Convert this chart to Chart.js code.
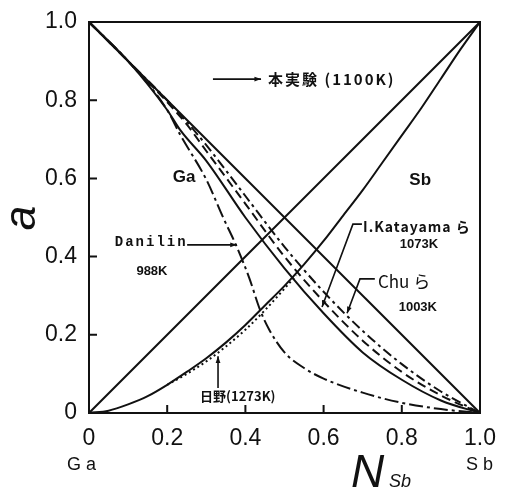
<!DOCTYPE html>
<html>
<head>
<meta charset="utf-8">
<script src="https://cdn.jsdelivr.net/npm/chart.js@4/dist/chart.umd.min.js"></script>
<style>
  body { margin: 0; background: #fff; }
</style>
</head>
<body>
<canvas id="chart" width="509" height="489"></canvas>
<script>
// tick values
const xTicks = [0, 0.2, 0.4, 0.6, 0.8, 1.0];
const yTicks = [0, 0.2, 0.4, 0.6, 0.8, 1.0];

// ideal (Raoult) lines
const raoultX = [0, 1];
const raoultGa = [1, 0];
const raoultSb = [0, 1];

// 本実験 (1100K)
const expGaX = [0, 0.1, 0.2, 0.233, 0.3, 0.4, 0.5, 0.6, 0.7, 0.8, 0.9, 1];
const expGa = [1, 0.9, 0.775, 0.724, 0.645, 0.5, 0.37, 0.255, 0.155, 0.085, 0.032, 0];
const expSbX = [0, 0.05, 0.1, 0.15, 0.2, 0.25, 0.3, 0.35, 0.4, 0.45, 0.5, 0.55, 0.6, 0.65, 0.7, 0.75, 0.8, 0.85, 0.9, 0.95, 1];
const expSb = [0, 0.006, 0.022, 0.043, 0.072, 0.105, 0.14, 0.18, 0.225, 0.275, 0.325, 0.38, 0.44, 0.505, 0.57, 0.64, 0.71, 0.78, 0.855, 0.93, 1];

// Chu ら 1003K
const chuX = [0, 0.1, 0.2, 0.25, 0.3, 0.4, 0.5, 0.6, 0.7, 0.8, 0.9, 1];
const chuGa = [1, 0.9, 0.8, 0.745, 0.685, 0.555, 0.425, 0.31, 0.21, 0.125, 0.055, 0];

// I.Katayama ら 1073K
const katayamaX = [0, 0.1, 0.2, 0.25, 0.3, 0.4, 0.5, 0.6, 0.7, 0.8, 0.9, 1];
const katayamaGa = [1, 0.9, 0.795, 0.738, 0.67, 0.535, 0.4, 0.285, 0.185, 0.105, 0.045, 0];

// Danilin 988K
const danilinX = [0, 0.1, 0.2, 0.233, 0.3, 0.343, 0.378, 0.41, 0.437, 0.46, 0.5, 0.55, 0.6, 0.7, 0.8, 0.9, 1];
const danilinGa = [1, 0.9, 0.775, 0.712, 0.597, 0.5, 0.425, 0.345, 0.265, 0.215, 0.155, 0.115, 0.088, 0.052, 0.026, 0.01, 0];

// 日野 (1273K)
const hinoX = [0.2, 0.25, 0.3, 0.35, 0.4, 0.45, 0.5, 0.53];
const hinoSb = [0.072, 0.1, 0.132, 0.17, 0.213, 0.263, 0.318, 0.352];

const pts = (xs, ys) => xs.map((v, i) => ({ x: v, y: ys[i] }));
const INK = '#111';

function curve(xs, ys, dash) {
    return {
        data: pts(xs, ys),
        showLine: true,
        borderColor: INK,
        borderWidth: 2,
        borderDash: dash,
        pointRadius: 0,
        cubicInterpolationMode: 'monotone',
    };
}

// labels, frame and pointers
const decor = {
    id: 'decor',
    afterDatasetsDraw(chart) {
        const { ctx, chartArea: a, scales: { x, y } } = chart;
        const px = v => x.getPixelForValue(v);
        const py = v => y.getPixelForValue(v);
        ctx.save();
        ctx.strokeStyle = INK;
        ctx.fillStyle = INK;
        ctx.lineWidth = 2;
        ctx.strokeRect(a.left, a.top, a.right - a.left, a.bottom - a.top);

        // inward ticks
        ctx.beginPath();
        xTicks.slice(1, -1).forEach(v => { ctx.moveTo(px(v), a.bottom); ctx.lineTo(px(v), a.bottom - 8); });
        yTicks.slice(1, -1).forEach(v => { ctx.moveTo(a.left, py(v)); ctx.lineTo(a.left + 8, py(v)); });
        ctx.stroke();

        function path(p) {
            ctx.lineWidth = 1.6;
            ctx.beginPath();
            p.forEach((q, i) => i ? ctx.lineTo(px(q[0]), py(q[1])) : ctx.moveTo(px(q[0]), py(q[1])));
            ctx.stroke();
            // arrow head at last point
            const [x1, y1] = [px(p[p.length - 2][0]), py(p[p.length - 2][1])];
            const [x2, y2] = [px(p[p.length - 1][0]), py(p[p.length - 1][1])];
            const ang = Math.atan2(y2 - y1, x2 - x1);
            ctx.beginPath();
            ctx.moveTo(x2, y2);
            ctx.lineTo(x2 - 7 * Math.cos(ang - 0.35), y2 - 7 * Math.sin(ang - 0.35));
            ctx.lineTo(x2 - 7 * Math.cos(ang + 0.35), y2 - 7 * Math.sin(ang + 0.35));
            ctx.closePath();
            ctx.fill();
        }
        function text(s, xv, yv, font, align, spacing) {
            ctx.font = font;
            ctx.textAlign = align || 'left';
            ctx.textBaseline = 'middle';
            ctx.letterSpacing = spacing || '0px';
            ctx.fillText(s, px(xv), py(yv));
        }

        path([[0.317, 0.854], [0.44, 0.854]]);
        text('本実験 (1100K)', 0.458, 0.854, 'bold 15px "Noto Sans CJK JP"', 'left', '2px');

        text('Ga', 0.243, 0.604, 'bold 17px "Liberation Sans Narrow", "Liberation Sans"', 'center');
        text('Sb', 0.847, 0.596, 'bold 17px "Liberation Sans Narrow", "Liberation Sans"', 'center');

        text('Danilin', 0.066, 0.437, 'bold 14px "Liberation Mono"', 'left', '2px');
        path([[0.251, 0.43], [0.378, 0.43]]);
        text('988K', 0.161, 0.361, 'bold 13px "Liberation Sans Narrow", "Liberation Sans"', 'center');

        text('I.Katayama ら', 0.701, 0.477, 'bold 14px "Noto Sans CJK JP"', 'left', '1px');
        path([[0.698, 0.483], [0.675, 0.483], [0.596, 0.271]]);
        text('1073K', 0.844, 0.43, 'bold 13px "Liberation Sans Narrow", "Liberation Sans"', 'center');

        text('Chu ら', 0.739, 0.335, '17px "Noto Sans CJK JP"', 'left');
        path([[0.731, 0.343], [0.693, 0.343], [0.66, 0.255]]);
        text('1003K', 0.841, 0.269, 'bold 13px "Liberation Sans Narrow", "Liberation Sans"', 'center');

        text('日野(1273K)', 0.284, 0.043, 'bold 13px "Noto Sans CJK JP"', 'left');
        path([[0.33, 0.064], [0.33, 0.145]]);

        // axis captions
        ctx.textBaseline = 'alphabetic';
        ctx.textAlign = 'center';
        ctx.font = '18px "Liberation Sans"';
        ctx.letterSpacing = '5px';
        ctx.fillText('Ga', a.left - 5, a.bottom + 57);
        ctx.fillText('Sb', a.right + 2, a.bottom + 57);
        ctx.letterSpacing = '0px';
        ctx.font = 'italic 46px "Liberation Sans"';
        ctx.textAlign = 'left';
        ctx.fillText('N', a.left + 262, a.bottom + 74);
        ctx.font = 'italic 18px "Liberation Sans"';
        ctx.fillText('Sb', a.left + 300, a.bottom + 74);

        ctx.save();
        ctx.translate(a.left - 66, a.top + 196);
        ctx.rotate(-Math.PI / 2);
        ctx.font = 'italic 44px "Liberation Sans"';
        ctx.textAlign = 'center';
        ctx.textBaseline = 'middle';
        ctx.fillText('a', 0, 0);
        ctx.restore();

        ctx.restore();
    }
};

new Chart(document.getElementById('chart'), {
    type: 'scatter',
    data: {
        datasets: [
            curve(raoultX, raoultGa, []),
            curve(raoultX, raoultSb, []),
            curve(expGaX, expGa, []),
            curve(expSbX, expSb, []),
            curve(chuX, chuGa, [10, 4, 3, 4]),
            curve(katayamaX, katayamaGa, [9, 5]),
            curve(danilinX, danilinGa, [14, 4, 3, 4]),
            curve(hinoX, hinoSb, [2, 3]),
        ]
    },
    options: {
        responsive: false,
        animation: false,
        devicePixelRatio: 1,
        layout: { padding: { top: 22, right: 29, left: 0, bottom: 0 } },
        plugins: { legend: { display: false }, tooltip: { enabled: false } },
        scales: {
            x: {
                type: 'linear', min: 0, max: 1,
                grid: { display: false, drawTicks: false },
                border: { display: false },
                ticks: {
                    stepSize: 0.2, padding: 12, color: INK,
                    font: { size: 23, family: '"Liberation Sans"' },
                    callback: v => v === 0 ? '0' : v.toFixed(1),
                },
                afterFit(s) { s.height = 76; s.paddingLeft = 0; s.paddingRight = 0; },
            },
            y: {
                type: 'linear', min: 0, max: 1,
                grid: { display: false, drawTicks: false },
                border: { display: false },
                ticks: {
                    stepSize: 0.2, padding: 12, color: INK,
                    font: { size: 23, family: '"Liberation Sans"' },
                    callback: v => v === 0 ? '0' : v.toFixed(1),
                },
                afterFit(s) { s.width = 89; s.paddingTop = 0; s.paddingBottom = 0; },
            },
        },
    },
    plugins: [decor],
});
</script>
</body>
</html>
